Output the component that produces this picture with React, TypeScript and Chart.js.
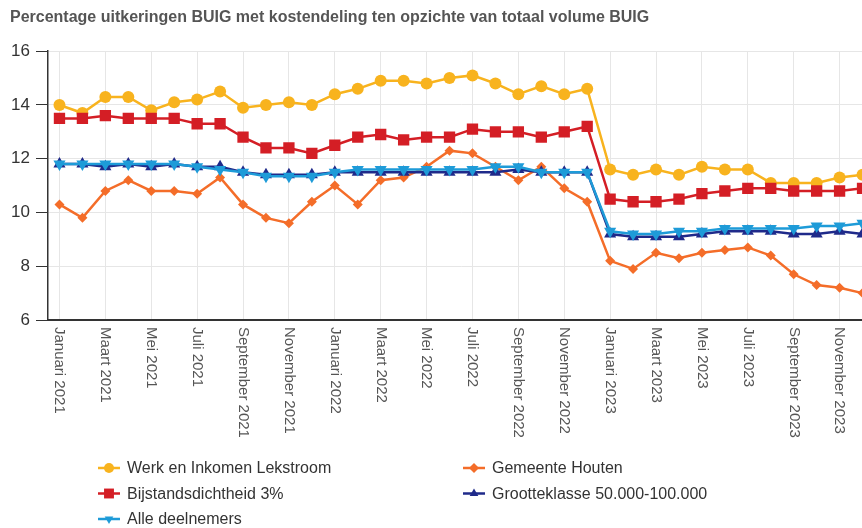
import React, { useEffect, useRef } from 'react';
import { Chart, registerables } from 'chart.js';

Chart.register(...registerables);

const FONT = "'Liberation Sans', Arial, Helvetica, sans-serif";

const monthNames = ['Januari', 'Februari', 'Maart', 'April', 'Mei', 'Juni', 'Juli', 'Augustus', 'September', 'Oktober', 'November', 'December'];
const years = ['2021', '2022', '2023'];
const categories = years.flatMap((y) => monthNames.map((m) => `${m} ${y}`));

const yTicks = [6, 8, 10, 12, 14, 16];

const werkEnInkomen = [
  14.0, 13.7, 14.3, 14.3, 13.8, 14.1, 14.2, 14.5, 13.9, 14.0, 14.1, 14.0,
  14.4, 14.6, 14.9, 14.9, 14.8, 15.0, 15.1, 14.8, 14.4, 14.7, 14.4, 14.6,
  11.6, 11.4, 11.6, 11.4, 11.7, 11.6, 11.6, 11.1, 11.1, 11.1, 11.3, 11.4,
];
const gemeenteHouten = [
  10.3, 9.8, 10.8, 11.2, 10.8, 10.8, 10.7, 11.3, 10.3, 9.8, 9.6, 10.4,
  11.0, 10.3, 11.2, 11.3, 11.7, 12.3, 12.2, 11.7, 11.2, 11.7, 10.9, 10.4,
  8.2, 7.9, 8.5, 8.3, 8.5, 8.6, 8.7, 8.4, 7.7, 7.3, 7.2, 7.0,
];
const bijstandsdichtheid = [
  13.5, 13.5, 13.6, 13.5, 13.5, 13.5, 13.3, 13.3, 12.8, 12.4, 12.4, 12.2,
  12.5, 12.8, 12.9, 12.7, 12.8, 12.8, 13.1, 13.0, 13.0, 12.8, 13.0, 13.2,
  10.5, 10.4, 10.4, 10.5, 10.7, 10.8, 10.9, 10.9, 10.8, 10.8, 10.8, 10.9,
];
const grootteklasse = [
  11.8, 11.8, 11.7, 11.8, 11.7, 11.8, 11.7, 11.7, 11.5, 11.4, 11.4, 11.4,
  11.5, 11.5, 11.5, 11.5, 11.5, 11.5, 11.5, 11.5, 11.6, 11.5, 11.5, 11.5,
  9.2, 9.1, 9.1, 9.1, 9.2, 9.3, 9.3, 9.3, 9.2, 9.2, 9.3, 9.2,
];
const alleDeelnemers = [
  11.8, 11.8, 11.8, 11.8, 11.8, 11.8, 11.7, 11.6, 11.5, 11.35, 11.35, 11.35,
  11.5, 11.6, 11.6, 11.6, 11.6, 11.6, 11.6, 11.7, 11.7, 11.5, 11.5, 11.5,
  9.3, 9.2, 9.2, 9.3, 9.3, 9.4, 9.4, 9.4, 9.4, 9.5, 9.5, 9.6,
];

const seriesNames = [
  'Werk en Inkomen Lekstroom',
  'Gemeente Houten',
  'Bijstandsdichtheid 3%',
  'Grootteklasse 50.000-100.000',
  'Alle deelnemers',
];
const seriesColors = ['#F8B31E', '#F46D29', '#D41E25', '#1F2A8A', '#1E9BD8'];
const seriesStyles = ['circle', 'rectRot', 'rect', 'triangle', 'triangle'];
const seriesRotation = [0, 0, 0, 0, 180];
const seriesRadius = [6, 5, 8, 7, 7];
const seriesData = [werkEnInkomen, gemeenteHouten, bijstandsdichtheid, grootteklasse, alleDeelnemers];

function drawMarker(ctx: CanvasRenderingContext2D, style: string, rot: number, x: number, y: number, r: number, color: string) {
  ctx.save();
  ctx.fillStyle = color;
  ctx.beginPath();
  if (style === 'circle') {
    ctx.arc(x, y, r, 0, Math.PI * 2);
  } else if (style === 'rect') {
    const s = r * Math.SQRT1_2;
    ctx.rect(x - s, y - s, 2 * s, 2 * s);
  } else if (style === 'rectRot') {
    ctx.moveTo(x, y - r);
    ctx.lineTo(x + r, y);
    ctx.lineTo(x, y + r);
    ctx.lineTo(x - r, y);
    ctx.closePath();
  } else {
    const dir = rot === 180 ? -1 : 1;
    ctx.moveTo(x, y - dir * r);
    ctx.lineTo(x + r * 0.866, y + dir * r * 0.5);
    ctx.lineTo(x - r * 0.866, y + dir * r * 0.5);
    ctx.closePath();
  }
  ctx.fill();
  ctx.restore();
}

const xLabelPlugin = {
  id: 'xLabelsDown',
  afterDraw(chart: any) {
    const scale = chart.scales.x;
    const ctx: CanvasRenderingContext2D = chart.ctx;
    ctx.save();
    ctx.font = `15px ${FONT}`;
    ctx.fillStyle = '#555555';
    ctx.textAlign = 'left';
    ctx.textBaseline = 'middle';
    scale.ticks.forEach((_t: any, i: number) => {
      if (i % 2 !== 0) return;
      const x = scale.getPixelForTick(i);
      ctx.save();
      ctx.translate(x, scale.top + 7);
      ctx.rotate(Math.PI / 2);
      ctx.fillText(String(chart.data.labels[i]), 0, 0);
      ctx.restore();
    });
    ctx.restore();
  },
};

const legendPlugin = {
  id: 'twoColLegend',
  afterDraw(chart: any) {
    const ctx: CanvasRenderingContext2D = chart.ctx;
    const area = chart.chartArea;
    ctx.save();
    ctx.font = `16px ${FONT}`;
    ctx.textAlign = 'left';
    ctx.textBaseline = 'middle';
    chart.data.datasets.forEach((ds: any, i: number) => {
      const col = i % 2;
      const row = Math.floor(i / 2);
      const x0 = area.left + 50 + col * 365;
      const y = area.bottom + 148 + row * 25.5;
      ctx.strokeStyle = ds.borderColor;
      ctx.lineWidth = 2.5;
      ctx.beginPath();
      ctx.moveTo(x0, y);
      ctx.lineTo(x0 + 22, y);
      ctx.stroke();
      drawMarker(ctx, ds.pointStyle, ds.pointRotation || 0, x0 + 11, y, ds.pointStyle === 'rect' ? 7 : 5, ds.borderColor);
      ctx.fillStyle = '#333333';
      ctx.fillText(ds.label, x0 + 29, y + 1);
    });
    ctx.restore();
  },
};

export default function App() {
  const canvasRef = useRef<HTMLCanvasElement | null>(null);

  useEffect(() => {
    if (!canvasRef.current) return;
    Chart.defaults.font.family = FONT;
    const chart = new Chart(canvasRef.current, {
      type: 'line',
      data: {
        labels: categories,
        datasets: seriesNames.map((name, i) => ({
          label: name,
          data: seriesData[i],
          borderColor: seriesColors[i],
          backgroundColor: seriesColors[i],
          pointBackgroundColor: seriesColors[i],
          pointBorderColor: seriesColors[i],
          pointBorderWidth: 0,
          pointStyle: seriesStyles[i] as any,
          pointRotation: seriesRotation[i],
          pointRadius: seriesRadius[i],
          borderWidth: 2.5,
          tension: 0,
          fill: false,
          order: seriesNames.length - i,
        })),
      },
      options: {
        responsive: false,
        animation: false,
        layout: { padding: { left: 10, right: 0, top: 0, bottom: 88 } },
        plugins: {
          legend: { display: false },
          tooltip: { enabled: false },
          title: {
            display: true,
            text: 'Percentage uitkeringen BUIG met kostendeling ten opzichte van totaal volume BUIG',
            align: 'start',
            color: '#555555',
            font: { family: FONT, size: 16, weight: 'bold' },
            padding: { top: 8, bottom: 24 },
          },
        },
        scales: {
          x: {
            type: 'category',
            offset: true,
            grid: {
              offset: false,
              drawTicks: false,
              color: (c: any) => (c.index % 2 === 0 ? '#e6e6e6' : 'rgba(0,0,0,0)'),
              lineWidth: 1,
            },
            border: { color: '#333333', width: 2 },
            ticks: { display: false, autoSkip: false },
            afterFit: (scale: any) => {
              scale.height = 120;
            },
          },
          y: {
            min: 6,
            max: 16,
            afterBuildTicks: (scale: any) => {
              scale.ticks = yTicks.map((v) => ({ value: v }));
            },
            ticks: { color: '#333333', font: { family: FONT, size: 17 }, padding: 6 },
            grid: { color: '#e6e6e6', tickColor: '#333333', tickLength: 12, lineWidth: 1 },
            border: { color: '#333333', width: 1.5 },
            afterFit: (scale: any) => {
              scale.width = 38;
            },
          },
        },
      },
      plugins: [xLabelPlugin, legendPlugin],
    });
    return () => chart.destroy();
  }, []);

  return (
    <div style={{ position: 'absolute', left: 0, top: 0, width: 862, height: 528, overflow: 'hidden', background: '#ffffff' }}>
      <canvas ref={canvasRef} width={882} height={528} style={{ display: 'block' }} />
    </div>
  );
}
